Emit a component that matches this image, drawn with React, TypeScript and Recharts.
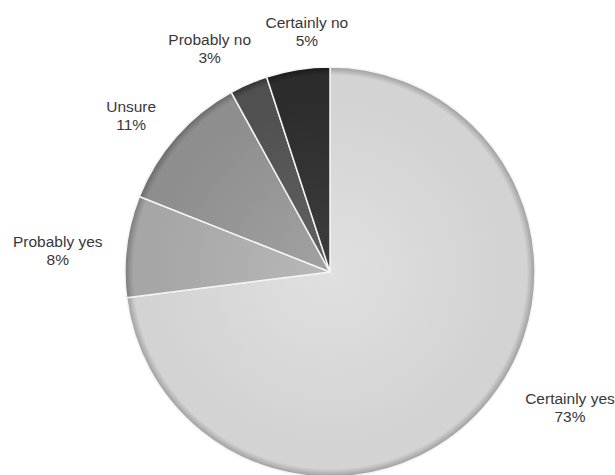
import { PieChart, Pie, Cell } from "recharts";

const answers = ["Certainly yes", "Probably yes", "Unsure", "Probably no", "Certainly no"];
const shares = [73, 8, 11, 3, 5];

const data = answers.map((label, i) => ({ label, value: shares[i] }));

// base shade, inner highlight, rim shadow
const shades = [
  ["#e0e0e0", "#d3d3d3", "#9c9c9c"],
  ["#b8b8b8", "#a6a6a6", "#7a7a7a"],
  ["#a2a2a2", "#8e8e8e", "#686868"],
  ["#626262", "#505050", "#333333"],
  ["#3e3e3e", "#2c2c2c", "#1a1a1a"],
];

// label placement tweaks: extra radius past the rim, angle nudge in degrees
const labelNudge = [
  { extra: 71, turn: 11.8 },
  { extra: 68, turn: 2.8 },
  { extra: 48, turn: 3.2 },
  { extra: 48, turn: 5.0 },
  { extra: 36, turn: -3.5 },
];

const CX = 330;
const CY = 272;
const R = 205;
const RAD = Math.PI / 180;

function renderLabel(props: any) {
  const { cx, cy, midAngle, outerRadius, index, payload } = props;
  const n = labelNudge[index];
  const a = (midAngle + n.turn) * RAD;
  const r = outerRadius + n.extra;
  const x = cx + r * Math.cos(a);
  const y = cy - r * Math.sin(a);
  return (
    <text
      x={x}
      y={y}
      textAnchor="middle"
      fontFamily="Liberation Sans, Arial, sans-serif"
      fontSize={15.5}
      fill="#383838"
    >
      <tspan x={x} y={y - 4}>{payload.label}</tspan>
      <tspan x={x} y={y + 14}>{payload.value}%</tspan>
    </text>
  );
}

export default function App() {
  return (
    <div style={{ position: "absolute", left: 0, top: 0, width: 615, height: 475, background: "#fff" }}>
      <PieChart width={615} height={475} margin={{ top: 0, right: 0, bottom: 0, left: 0 }}>
        <defs>
          {shades.map((s, i) => (
            <radialGradient key={i} id={`shade${i}`} gradientUnits="userSpaceOnUse" cx={CX} cy={CY} r={R}>
              <stop offset="0%" stopColor={s[0]} />
              <stop offset="85%" stopColor={s[1]} />
              <stop offset="96%" stopColor={s[1]} />
              <stop offset="100%" stopColor={s[2]} />
            </radialGradient>
          ))}
        </defs>
        <Pie
          data={data}
          dataKey="value"
          nameKey="label"
          cx={CX}
          cy={CY}
          outerRadius={R}
          startAngle={90}
          endAngle={-270}
          stroke="#f4f4f4"
          strokeWidth={1.5}
          label={renderLabel}
          labelLine={false}
          isAnimationActive={false}
        >
          {data.map((_, i) => (
            <Cell key={i} fill={`url(#shade${i})`} />
          ))}
        </Pie>
      </PieChart>
    </div>
  );
}
